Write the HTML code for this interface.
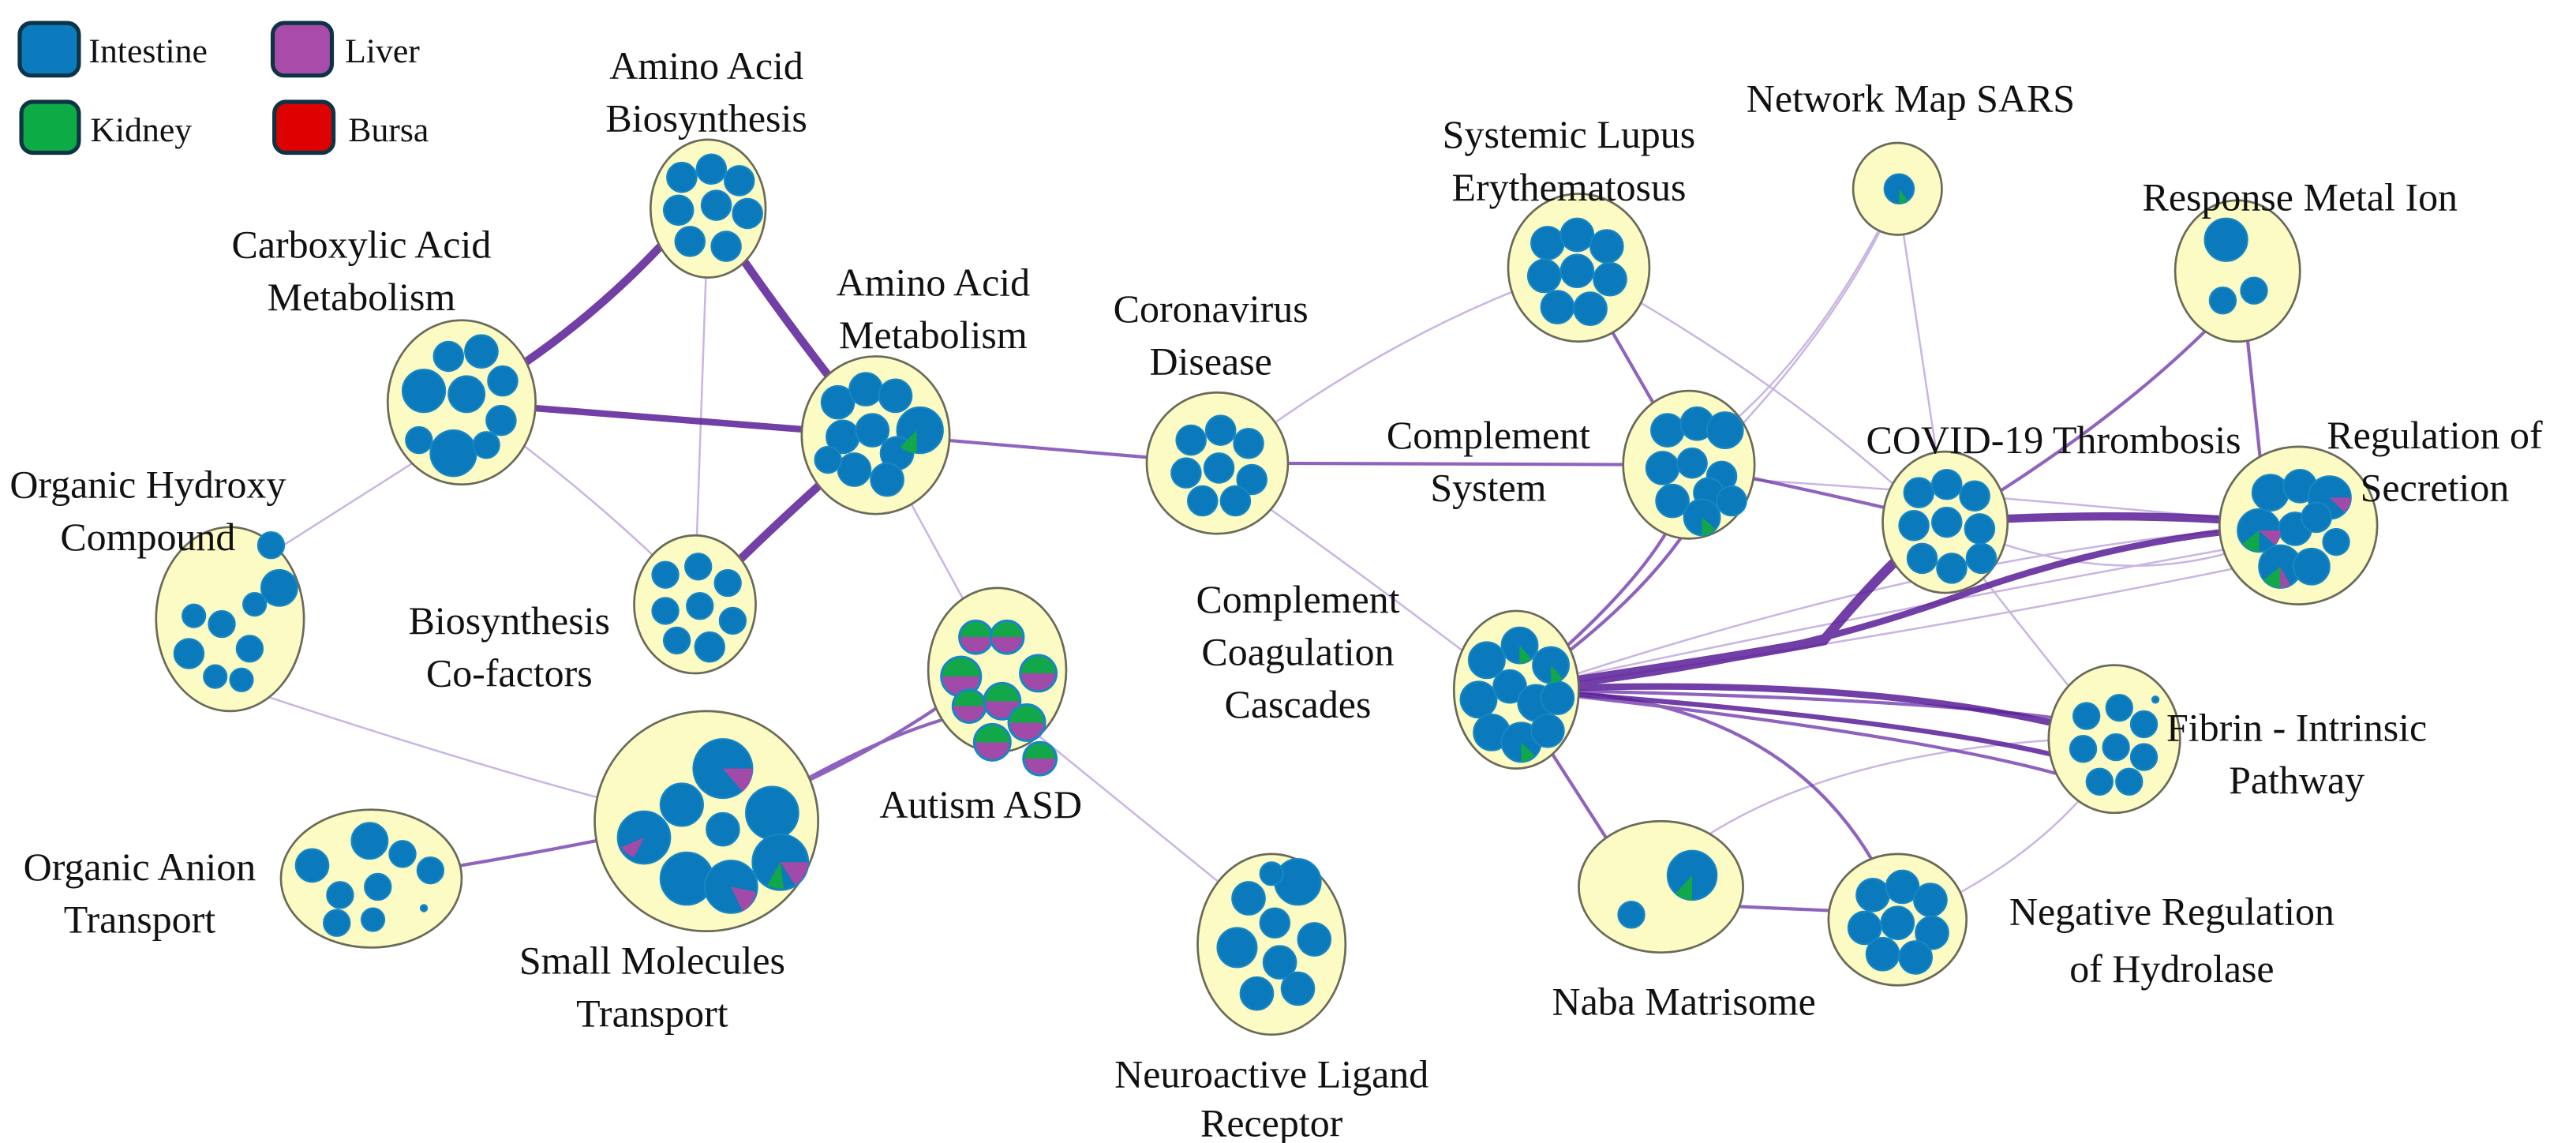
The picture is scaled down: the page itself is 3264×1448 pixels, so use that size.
<!DOCTYPE html>
<html><head><meta charset="utf-8"><style>
html,body{margin:0;padding:0;background:#fff;}
svg{display:block;}
text{font-family:"Liberation Serif",serif;fill:#111;}
</style></head><body>
<svg width="3264" height="1448" viewBox="0 0 1568 696" preserveAspectRatio="none" xmlns="http://www.w3.org/2000/svg">
<defs>
<linearGradient id="gp" x1="0" y1="0" x2="0" y2="1"><stop offset="0.5" stop-color="#12a84a"/><stop offset="0.5" stop-color="#a24aa8"/></linearGradient>
</defs>
<rect width="1568" height="696" fill="#fff"/>
<g stroke="#0d3346" stroke-width="2.5">
<rect x="12" y="14" width="36" height="32" rx="7" fill="#0b7bbd"/>
<rect x="13" y="62" width="35" height="31" rx="7" fill="#0cab45"/>
<rect x="166" y="14" width="36" height="32" rx="7" fill="#a94ba9"/>
<rect x="167" y="62" width="36" height="31" rx="7" fill="#df0000"/>
</g>
<g font-size="21">
<text x="54" y="38">Intestine</text>
<text x="55" y="86">Kidney</text>
<text x="210" y="38">Liver</text>
<text x="212" y="86">Bursa</text>
</g>

<g fill="none" stroke="#8a5cc0" stroke-width="1.2" opacity="0.45">
<path d="M290 250 Q360 300 420 360"/><path d="M431 130 L423 360"/>
<path d="M270 270 L160 340"/><path d="M150 420 Q300 470 400 495"/>
<path d="M540 280 L600 390"/><path d="M610 430 L770 560"/>
<path d="M745 280 Q850 200 955 165"/><path d="M745 290 Q830 350 915 415"/>
<path d="M1155 118 Q1120 200 1035 285"/><path d="M1155 118 Q1100 230 1025 280"/>
<path d="M1155 118 L1185 318"/><path d="M965 165 Q1100 240 1190 330"/>
<path d="M1290 455 Q1250 520 1160 560"/><path d="M1000 540 Q1080 460 1260 450"/>
<path d="M1190 330 Q1260 420 1290 455"/><path d="M1030 290 Q1200 300 1400 320"/>
<path d="M930 420 Q1200 330 1400 320"/><path d="M1185 318 Q1300 370 1400 320"/>
<path d="M923 420 Q1100 380 1380 330"/><path d="M923 420 Q1150 390 1390 340"/>
</g>
<g fill="none" stroke="#6a2fa8" stroke-width="2" opacity="0.75">
<path d="M540 265 L740 282"/><path d="M740 282 L1028 283"/>
<path d="M960 165 L1028 283"/><path d="M230 535 Q330 520 420 500"/>
<path d="M430 500 Q520 470 600 410"/><path d="M440 505 Q540 440 610 430"/>
<path d="M923 425 L1000 545"/><path d="M1011 550 L1150 556"/>
<path d="M1187 318 Q1300 250 1365 178"/><path d="M1365 178 L1378 300"/>
<path d="M1028 283 Q1110 300 1185 318"/>
<path d="M923 420 Q1100 420 1155 555"/>
<path d="M923 420 Q1020 340 1028 290"/><path d="M923 420 Q1010 360 1040 300"/>
<path d="M923 420 Q1200 450 1280 480"/><path d="M923 420 Q1180 425 1270 440"/>
</g>
<g fill="none" stroke="#5a1e98" opacity="0.85">
<path d="M281 245 Q360 200 420 130" stroke-width="5"/>
<path d="M431 127 Q480 200 533 265" stroke-width="5"/>
<path d="M281 245 Q400 255 533 265" stroke-width="4"/>
<path d="M423 368 Q470 320 533 265" stroke-width="5"/>
<path d="M923 420 Q1060 400 1110 390 Q1160 330 1184 318" stroke-width="6"/>
<path d="M923 420 Q1080 405 1200 360 Q1300 325 1399 320" stroke-width="4"/>
<path d="M1184 318 Q1300 310 1399 320" stroke-width="5"/>
<path d="M923 420 Q1150 410 1287 450" stroke-width="4"/>
<path d="M923 420 Q1200 440 1287 470" stroke-width="3"/>
</g>

<g fill="#fdfbc4" stroke="#6a6a5a" stroke-width="1.3">
<ellipse cx="431" cy="127" rx="35" ry="42"/>
<ellipse cx="281" cy="245" rx="45" ry="50"/>
<ellipse cx="533" cy="265" rx="45" ry="48"/>
<ellipse cx="423" cy="368" rx="37" ry="42"/>
<ellipse cx="140" cy="377" rx="45" ry="56"/>
<ellipse cx="607" cy="408" rx="42" ry="50"/>
<ellipse cx="430" cy="500" rx="68" ry="67"/>
<ellipse cx="226" cy="535" rx="55" ry="42"/>
<ellipse cx="774" cy="575" rx="45" ry="55"/>
<ellipse cx="741" cy="282" rx="43" ry="43"/>
<ellipse cx="961" cy="163" rx="43" ry="45"/>
<ellipse cx="1155" cy="115" rx="27" ry="28"/>
<ellipse cx="1028" cy="283" rx="40" ry="45"/>
<ellipse cx="1184" cy="318" rx="38" ry="43"/>
<ellipse cx="1362" cy="165" rx="38" ry="43"/>
<ellipse cx="1399" cy="320" rx="48" ry="48"/>
<ellipse cx="923" cy="420" rx="38" ry="48"/>
<ellipse cx="1287" cy="450" rx="40" ry="45"/>
<ellipse cx="1011" cy="540" rx="50" ry="40"/>
<ellipse cx="1155" cy="560" rx="42" ry="40"/>
</g>

<g fill="#0a7abc" stroke="#1787c4" stroke-width="1">
<circle cx="415" cy="108" r="9"/><circle cx="433" cy="103" r="9"/><circle cx="450" cy="110" r="9"/><circle cx="413" cy="128" r="9"/><circle cx="436" cy="125" r="9"/><circle cx="455" cy="130" r="9"/><circle cx="420" cy="147" r="9"/><circle cx="442" cy="150" r="9"/>
<circle cx="258" cy="238" r="13"/><circle cx="273" cy="217" r="9"/><circle cx="293" cy="214" r="10"/><circle cx="306" cy="232" r="9"/><circle cx="284" cy="240" r="11"/><circle cx="305" cy="256" r="9"/><circle cx="276" cy="276" r="14"/><circle cx="255" cy="268" r="8"/><circle cx="296" cy="271" r="8"/>
<circle cx="510" cy="245" r="10"/><circle cx="527" cy="237" r="10"/><circle cx="545" cy="241" r="10"/><circle cx="560" cy="262" r="14"/><circle cx="513" cy="266" r="10"/><circle cx="531" cy="262" r="10"/><circle cx="546" cy="276" r="10"/><circle cx="520" cy="286" r="10"/><circle cx="540" cy="292" r="10"/><circle cx="504" cy="280" r="8"/>
<circle cx="405" cy="350" r="8"/><circle cx="425" cy="345" r="8"/><circle cx="443" cy="355" r="8"/><circle cx="405" cy="372" r="8"/><circle cx="426" cy="369" r="8"/><circle cx="446" cy="378" r="8"/><circle cx="412" cy="390" r="8"/><circle cx="432" cy="394" r="9"/>
<circle cx="165" cy="332" r="8"/><circle cx="170" cy="358" r="11"/><circle cx="115" cy="398" r="9"/><circle cx="135" cy="380" r="8"/><circle cx="152" cy="395" r="8"/><circle cx="131" cy="412" r="7"/><circle cx="118" cy="375" r="7"/><circle cx="155" cy="368" r="7"/><circle cx="147" cy="414" r="7"/>
<circle cx="392" cy="510" r="16"/><circle cx="440" cy="468" r="18"/><circle cx="470" cy="495" r="16"/><circle cx="415" cy="490" r="13"/><circle cx="440" cy="505" r="10"/><circle cx="475" cy="525" r="17"/><circle cx="418" cy="535" r="16"/><circle cx="445" cy="540" r="16"/>
<circle cx="190" cy="527" r="10"/><circle cx="207" cy="545" r="8"/><circle cx="225" cy="512" r="11"/><circle cx="245" cy="520" r="8"/><circle cx="230" cy="540" r="8"/><circle cx="205" cy="562" r="8"/><circle cx="262" cy="530" r="8"/><circle cx="227" cy="560" r="7"/><circle cx="258" cy="553" r="2"/>
<circle cx="790" cy="537" r="14"/><circle cx="760" cy="547" r="10"/><circle cx="776" cy="562" r="9"/><circle cx="800" cy="572" r="10"/><circle cx="753" cy="577" r="12"/><circle cx="779" cy="586" r="10"/><circle cx="790" cy="602" r="10"/><circle cx="765" cy="605" r="10"/><circle cx="774" cy="532" r="7"/>
<circle cx="725" cy="268" r="9"/><circle cx="743" cy="262" r="9"/><circle cx="760" cy="270" r="9"/><circle cx="722" cy="288" r="9"/><circle cx="742" cy="285" r="9"/><circle cx="762" cy="292" r="9"/><circle cx="732" cy="305" r="9"/><circle cx="752" cy="305" r="9"/>
<circle cx="942" cy="148" r="10"/><circle cx="960" cy="143" r="10"/><circle cx="978" cy="150" r="10"/><circle cx="940" cy="168" r="10"/><circle cx="960" cy="165" r="10"/><circle cx="980" cy="170" r="10"/><circle cx="948" cy="187" r="10"/><circle cx="968" cy="188" r="10"/>
<circle cx="1156" cy="115" r="9"/>
<circle cx="1015" cy="262" r="10"/><circle cx="1033" cy="258" r="10"/><circle cx="1050" cy="262" r="11"/><circle cx="1012" cy="285" r="10"/><circle cx="1030" cy="282" r="9"/><circle cx="1048" cy="290" r="9"/><circle cx="1040" cy="300" r="9"/><circle cx="1018" cy="305" r="10"/><circle cx="1036" cy="315" r="11"/><circle cx="1054" cy="305" r="9"/>
<circle cx="1168" cy="300" r="9"/><circle cx="1185" cy="295" r="9"/><circle cx="1202" cy="302" r="9"/><circle cx="1165" cy="320" r="9"/><circle cx="1185" cy="318" r="9"/><circle cx="1205" cy="322" r="9"/><circle cx="1170" cy="340" r="9"/><circle cx="1188" cy="346" r="9"/><circle cx="1206" cy="340" r="9"/>
<circle cx="1355" cy="146" r="13"/><circle cx="1353" cy="183" r="8"/><circle cx="1372" cy="177" r="8"/>
<circle cx="1382" cy="300" r="11"/><circle cx="1400" cy="296" r="10"/><circle cx="1418" cy="303" r="13"/><circle cx="1375" cy="323" r="13"/><circle cx="1397" cy="322" r="10"/><circle cx="1410" cy="315" r="9"/><circle cx="1422" cy="330" r="8"/><circle cx="1388" cy="345" r="13"/><circle cx="1407" cy="345" r="11"/>
<circle cx="905" cy="402" r="11"/><circle cx="925" cy="393" r="11"/><circle cx="944" cy="405" r="11"/><circle cx="900" cy="426" r="11"/><circle cx="919" cy="418" r="10"/><circle cx="935" cy="428" r="11"/><circle cx="948" cy="425" r="10"/><circle cx="908" cy="446" r="11"/><circle cx="926" cy="452" r="12"/><circle cx="942" cy="445" r="10"/>
<circle cx="1270" cy="436" r="8"/><circle cx="1290" cy="431" r="8"/><circle cx="1305" cy="441" r="8"/><circle cx="1268" cy="456" r="8"/><circle cx="1288" cy="455" r="8"/><circle cx="1305" cy="461" r="8"/><circle cx="1278" cy="476" r="8"/><circle cx="1296" cy="476" r="8"/><circle cx="1312" cy="426" r="2"/>
<circle cx="1030" cy="533" r="15"/><circle cx="993" cy="557" r="8"/>
<circle cx="1140" cy="545" r="10"/><circle cx="1158" cy="540" r="10"/><circle cx="1175" cy="548" r="10"/><circle cx="1135" cy="565" r="10"/><circle cx="1155" cy="562" r="10"/><circle cx="1176" cy="568" r="10"/><circle cx="1146" cy="581" r="10"/><circle cx="1166" cy="583" r="10"/>
</g>
<g fill="url(#gp)" stroke="#1787c4" stroke-width="1.5">
<circle cx="594" cy="388" r="10"/><circle cx="613" cy="388" r="10"/><circle cx="585" cy="412" r="12"/><circle cx="632" cy="410" r="11"/><circle cx="590" cy="430" r="10"/><circle cx="610" cy="427" r="11"/><circle cx="625" cy="440" r="11"/><circle cx="604" cy="452" r="11"/><circle cx="633" cy="462" r="10"/>
</g>
<g fill="#12a84a">
<path d="M558 262 l0 14 a14 14 0 0 1 -10 -4z"/><path d="M1030 533 l0 15 a15 15 0 0 1 -10 -4z"/>
<path d="M1156 115 l0 9 a9 9 0 0 0 5 -2z"/><path d="M475 525 l-8 14 a17 17 0 0 0 10 2z"/>
<path d="M1375 323 l0 13 a13 13 0 0 1 -10 -5z"/><path d="M1388 345 l0 13 a13 13 0 0 1 -10 -5z"/>
<path d="M1036 315 l0 11 a11 11 0 0 0 8 -4z"/><path d="M926 452 l0 12 a12 12 0 0 0 8 -4z"/>
<path d="M925 393 l0 11 a11 11 0 0 0 7 -3z"/><path d="M944 405 l0 11 a11 11 0 0 0 7 -3z"/>
</g>
<g fill="#a24aa8">
<path d="M440 468 l18 0 a18 18 0 0 1 -6 14z"/><path d="M392 510 l-6 12 a16 16 0 0 1 -8 -6z"/>
<path d="M475 525 l17 0 a17 17 0 0 1 -8 14z"/><path d="M445 540 l15 3 a16 16 0 0 1 -8 12z"/>
<path d="M1375 323 l13 0 a13 13 0 0 1 -3 9z"/><path d="M1418 303 l13 0 a13 13 0 0 1 -4 9z"/>
<path d="M1388 345 l6 11 a13 13 0 0 1 -6 2z"/>
</g>

<g font-size="24" text-anchor="middle">
<text x="430" y="48">Amino Acid</text><text x="430" y="80">Biosynthesis</text>
<text x="220" y="157">Carboxylic Acid</text><text x="220" y="189">Metabolism</text>
<text x="568" y="180">Amino Acid</text><text x="568" y="212">Metabolism</text>
<text x="737" y="196">Coronavirus</text><text x="737" y="228">Disease</text>
<text x="955" y="90">Systemic Lupus</text><text x="955" y="122">Erythematosus</text>
<text x="1163" y="68">Network Map SARS</text>
<text x="1400" y="128">Response Metal Ion</text>
<text x="906" y="273">Complement</text><text x="906" y="305">System</text>
<text x="1250" y="276">COVID-19 Thrombosis</text>
<text x="1482" y="273">Regulation of</text><text x="1482" y="305">Secretion</text>
<text x="90" y="303">Organic Hydroxy</text><text x="90" y="335">Compound</text>
<text x="310" y="386">Biosynthesis</text><text x="310" y="418">Co-factors</text>
<text x="790" y="373">Complement</text><text x="790" y="405">Coagulation</text><text x="790" y="437">Cascades</text>
<text x="597" y="498">Autism ASD</text>
<text x="1398" y="451">Fibrin - Intrinsic</text><text x="1398" y="483">Pathway</text>
<text x="85" y="536">Organic Anion</text><text x="85" y="568">Transport</text>
<text x="397" y="593">Small Molecules</text><text x="397" y="625">Transport</text>
<text x="1322" y="563">Negative Regulation</text><text x="1322" y="598">of Hydrolase</text>
<text x="1025" y="618">Naba Matrisome</text>
<text x="774" y="662">Neuroactive Ligand</text><text x="774" y="692">Receptor</text>
</g>
</svg>
</body></html>
